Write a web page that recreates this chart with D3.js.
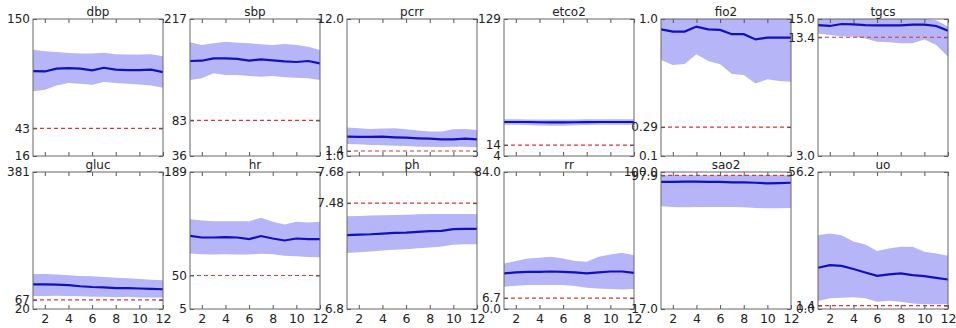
<!DOCTYPE html>
<html>
<head>
<meta charset="utf-8">
<script src="https://cdn.jsdelivr.net/npm/d3@7"></script>
<style>
  body { margin: 0; background: #fff; }
  text { font-family: "DejaVu Sans", sans-serif; fill: #222; }
</style>
</head>
<body>
<script>
// hours 1..12
const hours = [1, 2, 3, 4, 5, 6, 7, 8, 9, 10, 11, 12];
const xTicks = [2, 4, 6, 8, 10, 12];

const names = ["dbp", "sbp", "pcrr", "etco2", "fio2", "tgcs", "gluc", "hr", "ph", "rr", "sao2", "uo"];
// [min, max] of each y axis
const yMin = [16, 36, 1.0, 4, 0.1, 3.0, 20, 5, 6.8, 0.0, 17.0, 0.0];
const yMax = [150, 217, 12.0, 129, 1.0, 15.0, 381, 189, 7.68, 84.0, 100.0, 56.2];
const yMinLabel = ["16", "36", "1.0", "4", "0.1", "3.0", "20", "5", "6.8", "0.0", "17.0", "0.0"];
const yMaxLabel = ["150", "217", "12.0", "129", "1.0", "15.0", "381", "189", "7.68", "84.0", "100.0", "56.2"];
// red dashed threshold (gluc line sits lower than its "67" label would suggest)
const threshold = [43, 83, 1.4, 14, 0.29, 13.4, 44, 50, 7.48, 6.7, 97.9, 1.4];
const thresholdLabel = ["43", "83", "1.4", "14", "0.29", "13.4", "67", "50", "7.48", "6.7", "97.9", "1.4"];

const meanVals = [
  [99.1, 98.7, 101.4, 102, 101.4, 99.7, 102.3, 100.4, 100, 100, 100.4, 98.1],
  [161.5, 161.9, 165, 165, 164.2, 162, 163.7, 162.4, 161, 160.2, 161.5, 158.4],
  [2.55, 2.53, 2.53, 2.55, 2.5, 2.47, 2.42, 2.39, 2.34, 2.34, 2.39, 2.34],
  [35, 35, 35, 34.8, 34.6, 34.6, 34.8, 34.9, 35, 35, 35, 35],
  [0.932, 0.917, 0.917, 0.95, 0.932, 0.928, 0.9, 0.9, 0.866, 0.877, 0.877, 0.877],
  [14.47, 14.39, 14.56, 14.53, 14.47, 14.45, 14.45, 14.45, 14.5, 14.5, 14.39, 13.98],
  [85, 85, 84, 83, 80, 78, 77, 75, 75, 74, 73, 72],
  [103.3, 101, 101, 101.5, 101, 98.9, 103, 99.7, 97, 99.7, 98.9, 98.9],
  [7.274, 7.278, 7.28, 7.284, 7.289, 7.291, 7.295, 7.3, 7.302, 7.313, 7.315, 7.315],
  [21.8, 22.4, 22.8, 22.8, 23, 22.8, 22.4, 21.8, 22.4, 23, 23, 22.2],
  [94, 94, 94.2, 94.2, 94, 94, 93.7, 93.7, 93.5, 93.1, 93.3, 93.5],
  [16.9, 18, 17.7, 16.4, 15, 13.6, 14.2, 14.6, 13.9, 13.5, 12.8, 12.1]
];
const upperVals = [
  [120, 118.5, 117.8, 116.8, 116.2, 116.2, 117, 115.5, 115.2, 115.2, 115.5, 113.5],
  [186.2, 182.6, 184.8, 187, 185.7, 184.8, 183.5, 182.6, 184, 182.6, 180.4, 176],
  [3.28, 3.23, 3.17, 3.2, 3.23, 3.14, 3.04, 2.96, 2.96, 3.14, 3.17, 3.09],
  [37.5, 37.5, 37.4, 37.3, 37.3, 37.4, 37.4, 37.5, 37.5, 37.5, 37.5, 37.5],
  [1.0, 1.0, 1.0, 1.0, 1.0, 1.0, 1.0, 1.0, 1.0, 1.0, 1.0, 1.0],
  [15, 15, 15, 15, 15, 15, 15, 15, 15, 15, 14.9, 14.35],
  [112.5, 112.5, 111, 109, 107, 106, 104, 102.5, 101, 99, 97, 96],
  [125.6, 123.8, 123, 123, 123, 123, 127.5, 122.2, 118.4, 122.2, 121.3, 122.2],
  [7.396, 7.398, 7.4, 7.402, 7.404, 7.406, 7.409, 7.411, 7.411, 7.411, 7.411, 7.411],
  [27.9, 29.4, 31, 31.4, 32, 31, 29.4, 29, 32, 33.4, 34.5, 33],
  [98, 98, 98, 98, 98, 98, 98, 98, 98, 98, 98, 98],
  [30.3, 31, 30.3, 27.7, 26.5, 23.8, 24.8, 25.5, 25.5, 23.5, 22.8, 21.8]
];
const lowerVals = [
  [79.4, 80.7, 85, 87.3, 86.6, 85.6, 88.3, 87.3, 86.6, 86, 85, 82.7],
  [136.4, 138.6, 145.2, 143, 143, 141.7, 140.8, 141.7, 140, 139.5, 138.6, 136.4],
  [1.96, 1.94, 1.88, 1.86, 1.83, 1.8, 1.75, 1.75, 1.72, 1.75, 1.75, 1.7],
  [32.5, 32.4, 32.2, 31.8, 31.5, 31.6, 32, 32.3, 32.5, 32.5, 32.5, 32.5],
  [0.731, 0.698, 0.705, 0.768, 0.724, 0.702, 0.639, 0.632, 0.577, 0.604, 0.593, 0.588],
  [13.74, 13.6, 13.5, 13.45, 13.3, 13.0, 12.96, 12.87, 12.87, 13.2, 12.72, 11.7],
  [54.5, 54.5, 55, 54.5, 53.6, 52, 52, 51, 52, 50, 50, 50],
  [79.6, 78.7, 78.2, 78.7, 78.2, 78.2, 79.1, 78.7, 76.6, 75.7, 74.8, 74.4],
  [7.159, 7.165, 7.169, 7.176, 7.18, 7.184, 7.191, 7.195, 7.201, 7.212, 7.216, 7.216],
  [13.7, 14.3, 14.7, 14.7, 14.7, 14.7, 14.1, 13.1, 12.6, 12.2, 12, 12.2],
  [79.2, 78.8, 78.6, 78.8, 78.8, 78.8, 78.8, 78.6, 78.2, 78, 78, 78.2],
  [3.3, 4.4, 4.6, 4.8, 4.4, 3, 3.4, 3, 2.3, 2, 1.9, 1.9]
];

const width = 956;
const height = 328;
const panelW = 130;
const panelH = 137;
const colStep = 157;
const firstLeft = 33;
const rowTops = [19, 172];

const svg = d3.select("body").append("svg")
  .attr("width", width)
  .attr("height", height);

names.forEach((name, i) => {
  const col = i % 6;
  const row = Math.floor(i / 6);
  const left = firstLeft + col * colStep;
  const top = rowTops[row];

  const x = d3.scaleLinear().domain([1, 12]).range([0, panelW]);
  const y = d3.scaleLinear().domain([yMin[i], yMax[i]]).range([panelH, 0]);

  const g = svg.append("g").attr("transform", "translate(" + left + "," + top + ")");

  g.append("clipPath").attr("id", "clip" + i)
    .append("rect").attr("width", panelW).attr("height", panelH);

  const plot = g.append("g").attr("clip-path", "url(#clip" + i + ")");

  // std band
  const area = d3.area()
    .x((d, k) => x(hours[k]))
    .y0((d, k) => y(lowerVals[i][k]))
    .y1((d, k) => y(upperVals[i][k]));
  plot.append("path")
    .datum(hours)
    .attr("fill", "#b5b5f7")
    .attr("d", area);

  // threshold
  plot.append("line")
    .attr("x1", 0).attr("x2", panelW)
    .attr("y1", y(threshold[i])).attr("y2", y(threshold[i]))
    .attr("stroke", "#d9363e")
    .attr("stroke-width", 1.2)
    .attr("stroke-dasharray", "4,3");

  // mean
  const line = d3.line()
    .x((d, k) => x(hours[k]))
    .y(d => y(d));
  plot.append("path")
    .datum(meanVals[i])
    .attr("fill", "none")
    .attr("stroke", "#1010c0")
    .attr("stroke-width", 2.2)
    .attr("d", line);

  // axes: ticks inside, on all four sides
  const xb = g.append("g").attr("transform", "translate(0," + panelH + ")")
    .call(d3.axisBottom(x).tickValues(xTicks).tickSizeInner(-4).tickSizeOuter(0).tickPadding(5));
  const xt = g.append("g")
    .call(d3.axisTop(x).tickValues(xTicks).tickSizeInner(-4).tickSizeOuter(0).tickFormat(""));
  const yTickVals = [yMin[i], threshold[i], yMax[i]];
  const yTickText = [yMinLabel[i], thresholdLabel[i], yMaxLabel[i]];
  const yl = g.append("g")
    .call(d3.axisLeft(y).tickValues(yTickVals).tickSizeInner(-4).tickSizeOuter(0).tickPadding(3)
      .tickFormat((d, k) => yTickText[k]));
  const yr = g.append("g").attr("transform", "translate(" + panelW + ",0)")
    .call(d3.axisRight(y).tickValues(yTickVals).tickSizeInner(-4).tickSizeOuter(0).tickFormat(""));

  [xb, xt, yl, yr].forEach(a => {
    a.select(".domain").remove();
    a.selectAll("line").attr("stroke", "#555");
  });
  yl.selectAll("text")
    .attr("font-size", "12px")
    .attr("font-family", "DejaVu Sans")
    .attr("fill", "#222");
  if (row === 0) {
    xb.selectAll("text").remove();
  } else {
    xb.selectAll("text")
      .attr("font-size", "12.5px")
      .attr("font-family", "DejaVu Sans")
      .attr("fill", "#222");
  }

  g.append("rect")
    .attr("width", panelW).attr("height", panelH)
    .attr("fill", "none")
    .attr("stroke", "#666")
    .attr("stroke-width", 1);

  g.append("text")
    .attr("x", panelW / 2)
    .attr("y", -3)
    .attr("text-anchor", "middle")
    .attr("font-size", "12px")
    .text(name);
});
</script>
</body>
</html>
